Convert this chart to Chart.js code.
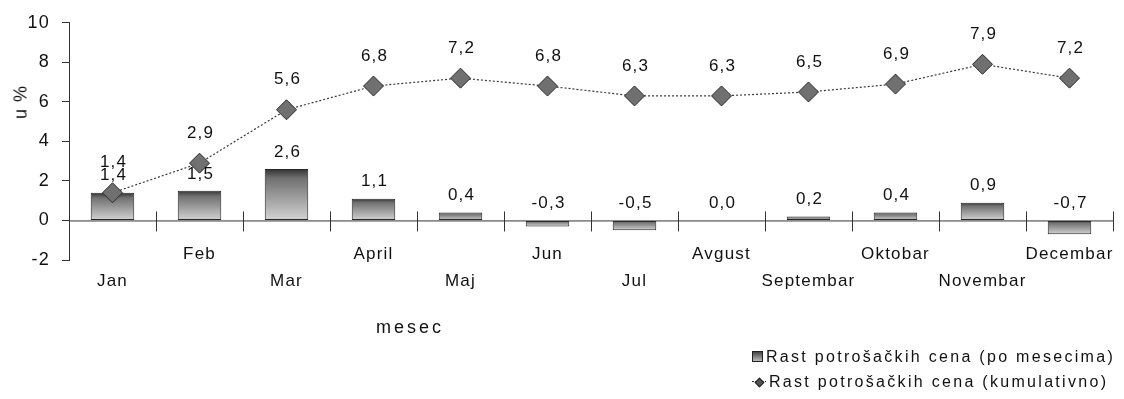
<!DOCTYPE html>
<html>
<head>
<meta charset="utf-8">
<script src="https://cdn.jsdelivr.net/npm/chart.js@4/dist/chart.umd.min.js"></script>
<style>
  html, body { margin: 0; padding: 0; background: #fff; }
  #wrap { position: relative; width: 1124px; height: 399px; font-family: "Liberation Sans", Arial, sans-serif; color: #111; }
  #c { position: absolute; left: 0; top: 0; }
  #ytitle { position: absolute; left: 21px; top: 102px; transform: translate(-50%, -50%) rotate(-90deg); font-size: 18px; letter-spacing: 1px; white-space: nowrap; }
  #xtitle { position: absolute; left: 410px; top: 327px; transform: translate(-50%, -50%); font-size: 18px; letter-spacing: 3px; white-space: nowrap; }
  #legend { position: absolute; left: 752px; top: 344px; font-size: 16px; letter-spacing: 2.3px; line-height: 25px; white-space: nowrap; }
  .row { display: flex; align-items: center; }
  .sw-bar { width: 9px; height: 9px; border: 1px solid #222; background: linear-gradient(#444, #bbb); margin-right: 3px; }
  .sw-line { position: relative; width: 14px; height: 10px; margin-right: 3px; }
  .sw-line::before { content: ""; position: absolute; left: 0; right: 0; top: 4px; border-top: 1px dotted #333; }
  .sw-line::after { content: ""; position: absolute; left: 4px; top: 2px; width: 5px; height: 5px; background: #555; border: 1px solid #222; transform: rotate(45deg); }
</style>
</head>
<body>
<div id="wrap">
  <canvas id="c" width="1124" height="399"></canvas>
  <div id="ytitle">u %</div>
  <div id="xtitle">mesec</div>
  <div id="legend">
    <div class="row"><span class="sw-bar"></span><span>Rast potrošačkih cena (po mesecima)</span></div>
    <div class="row"><span class="sw-line"></span><span>Rast potrošačkih cena (kumulativno)</span></div>
  </div>
</div>
<script>
// Months on the category axis
const months = ['Jan', 'Feb', 'Mar', 'April', 'Maj', 'Jun', 'Jul', 'Avgust', 'Septembar', 'Oktobar', 'Novembar', 'Decembar'];
// Monthly consumer price growth, %
const monthly = [1.4, 1.5, 2.6, 1.1, 0.4, -0.3, -0.5, 0.0, 0.2, 0.4, 0.9, -0.7];
// Cumulative consumer price growth, %
const cumulative = [1.4, 2.9, 5.6, 6.8, 7.2, 6.8, 6.3, 6.3, 6.5, 6.9, 7.9, 7.2];
// Value axis ticks
const yTicks = [-2, 0, 2, 4, 6, 8, 10];

const monthlyLabel = 'Rast potrošačkih cena (po mesecima)';
const cumulativeLabel = 'Rast potrošačkih cena (kumulativno)';

const FONT = '"Liberation Sans", Arial, sans-serif';
const SPACING = '1.2px';
const fmt = v => v.toFixed(1).replace('.', ',');

// Month names alternate between two rows under the axis
const tickRows = months.map((m, i) => (i % 2 === 0 ? ['', m] : [m, '']));

function barFill(ctx) {
  const chart = ctx.chart;
  const y = chart.scales.y;
  if (!chart.chartArea || !y) return '#999';
  const v = monthly[ctx.dataIndex];
  const top = y.getPixelForValue(Math.max(v, 0));
  const bot = y.getPixelForValue(Math.min(v, 0));
  const g = chart.ctx.createLinearGradient(0, top, 0, Math.max(bot, top + 1));
  g.addColorStop(0, '#333333');
  g.addColorStop(0.18, '#707070');
  g.addColorStop(1, '#d4d4d4');
  return g;
}

// Wider letter spacing for all canvas text
const spacing = {
  id: 'spacing',
  beforeUpdate(chart) { chart.ctx.letterSpacing = SPACING; },
  beforeDraw(chart) { chart.ctx.letterSpacing = SPACING; }
};

// Zero line with tick marks crossing it at category boundaries
const crossTicks = {
  id: 'crossTicks',
  afterDatasetsDraw(chart) {
    const x = chart.scales.x, y = chart.scales.y, ctx = chart.ctx;
    const y0 = y.getPixelForValue(0);
    const half = (x.getPixelForValue(1) - x.getPixelForValue(0)) / 2;
    ctx.save();
    ctx.strokeStyle = '#333';
    ctx.lineWidth = 1;
    ctx.beginPath();
    ctx.moveTo(chart.chartArea.left, y0 + 0.5);
    ctx.lineTo(chart.chartArea.right, y0 + 0.5);
    for (let i = 0; i < months.length; i++) {
      const px = Math.round(x.getPixelForValue(i) + half) + 0.5;
      ctx.moveTo(px, y0 - 9);
      ctx.lineTo(px, y0 + 11);
    }
    ctx.stroke();
    ctx.restore();
  }
};

// Value labels above bars and line points
const valueLabels = {
  id: 'valueLabels',
  afterDraw(chart) {
    const ctx = chart.ctx, y = chart.scales.y;
    ctx.save();
    ctx.letterSpacing = SPACING;
    ctx.font = '17px ' + FONT;
    ctx.fillStyle = '#111';
    ctx.textAlign = 'center';
    ctx.textBaseline = 'middle';
    chart.getDatasetMeta(0).data.forEach((el, i) => {
      const v = monthly[i];
      const yy = y.getPixelForValue(Math.max(v, 0)) - 17;
      ctx.fillText(fmt(v), el.x + 1, yy);
    });
    chart.getDatasetMeta(1).data.forEach((el, i) => {
      ctx.fillText(fmt(cumulative[i]), el.x + 1, el.y - 30);
    });
    ctx.restore();
  }
};

new Chart(document.getElementById('c'), {
  type: 'bar',
  data: {
    labels: months,
    datasets: [
      {
        type: 'bar',
        label: monthlyLabel,
        data: monthly,
        order: 1,
        backgroundColor: barFill,
        borderColor: '#262626',
        borderWidth: 1,
        borderSkipped: false,
        categoryPercentage: 1,
        barPercentage: 0.5
      },
      {
        type: 'line',
        label: cumulativeLabel,
        data: cumulative,
        order: 0,
        borderColor: '#3a3a3a',
        borderWidth: 1.2,
        borderDash: [2, 2],
        pointStyle: 'rectRot',
        pointRadius: 10,
        pointBackgroundColor: '#707070',
        pointBorderColor: '#2a2a2a',
        pointBorderWidth: 1,
        tension: 0
      }
    ]
  },
  options: {
    responsive: false,
    animation: false,
    events: [],
    layout: { padding: { left: 0, right: 7, top: 19, bottom: 139 } },
    plugins: {
      legend: { display: false },
      tooltip: { enabled: false }
    },
    scales: {
      x: {
        position: { y: 0 },
        offset: true,
        afterFit: scale => { scale.paddingLeft = 0; scale.paddingRight = 0; },
        grid: { display: false, drawTicks: false },
        border: { display: false },
        ticks: {
          autoSkip: false,
          maxRotation: 0,
          minRotation: 0,
          padding: 20,
          color: '#111',
          font: { family: FONT, size: 17, lineHeight: 1.6 },
          callback: (val, i) => tickRows[i]
        }
      },
      y: {
        min: yTicks[0],
        max: yTicks[yTicks.length - 1],
        afterBuildTicks: scale => { scale.ticks = yTicks.map(v => ({ value: v })); },
        afterFit: scale => { scale.width = 69; },
        grid: { display: true, drawOnChartArea: false, tickLength: 7, color: '#333' },
        border: { display: true, color: '#333', width: 1 },
        ticks: {
          padding: 12,
          color: '#111',
          font: { family: FONT, size: 18 }
        }
      }
    }
  },
  plugins: [spacing, crossTicks, valueLabels]
});
</script>
</body>
</html>
